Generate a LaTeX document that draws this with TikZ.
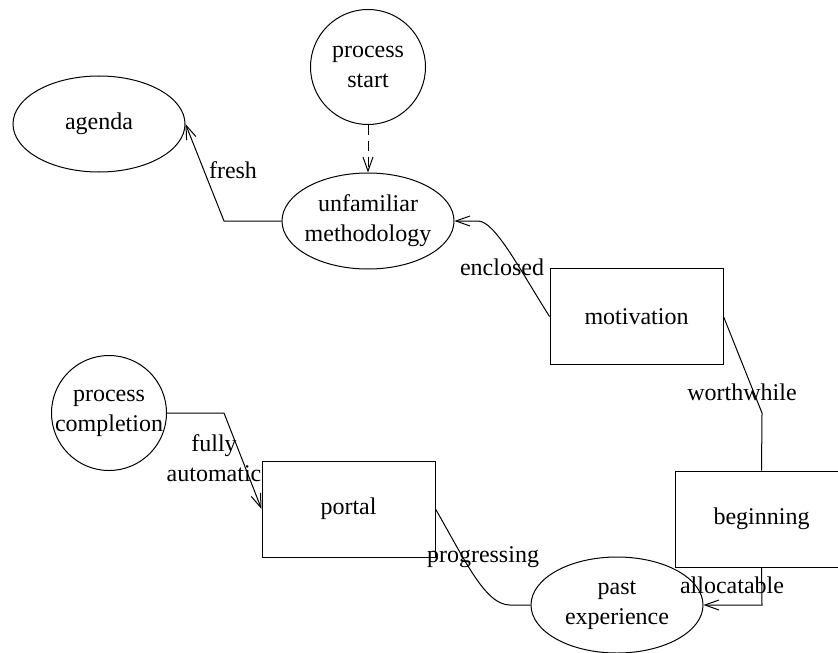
\documentclass[tikz,border=0pt]{standalone}
\usepackage{fontspec}
\setmainfont{Liberation Serif}
\usepackage{tikz}
\usetikzlibrary{shapes.geometric, arrows.meta}

\begin{document}
\begin{tikzpicture}[x=0.5pt, y=-0.5pt, line width=0.5pt,
  font=\fontsize{12}{15}\selectfont,
  ovalnode/.style={draw, ellipse, minimum width=86pt, minimum height=48pt, inner sep=0},
  ringnode/.style={draw, circle, minimum size=57.5pt, inner sep=0},
  rectbox/.style={draw, rectangle, minimum width=86.5pt, minimum height=48pt, inner sep=0},
  lbl/.style={inner sep=0, align=center},
  arr/.style={-{Straight Barb[length=7pt,width=5pt]}}]
  \useasboundingbox (0,0) rectangle (838,652);
  %% States
  \node[ringnode, label={[lbl]center:{process\\start}}] (start) at (368,67) {};
  \node[ovalnode, label={[lbl]center:agenda}] (agenda) at (99,124) {};
  \node[ovalnode, label={[lbl]center:{unfamiliar\\methodology}}] (meth) at (368,221) {};
  \node[rectbox] (mot) at (636.5,316.5) {motivation};
  \node[rectbox] (beg) at (761.5,519) {beginning};
  \node[rectbox] (portal) at (348.5,509) {portal};
  \node[ovalnode, label={[lbl]center:{past\\experience}}] (past) at (617,605) {};
  \node[ringnode, label={[lbl]center:{process\\completion}}] (compl) at (109,413) {};
  %% Bend points
  \coordinate (fb) at (224,221);
  \coordinate (wb) at (762,413);
  \coordinate (ab) at (762,605);
  \coordinate (fa) at (224,413);
  %% Transitions
  \draw[arr, dash pattern=on 5pt off 3pt] (start) -- (meth);
  \draw[arr] (meth.west) -- (fb) -- (agenda.east);
  \draw[arr] (mot.west) .. controls (520,270) and (495,221) .. (478,221) -- (meth.east);
  \draw (mot.east) -- (wb) -- (beg.north);
  \draw[arr] (beg.south) -- (ab) -- (past.east);
  \draw (portal.east) .. controls (465,560) and (485,605) .. (510,605) -- (past.west);
  \draw[arr] (compl.east) -- (fa) -- (portal.west);
  %% Labels
  \node[lbl] (lfresh) at (233,170) {fresh};
  \node[lbl] (lencl) at (502,267) {enclosed};
  \node[lbl] (lworth) at (742,392) {worthwhile};
  \node[lbl] (lfully) at (214,458) {fully\\automatic};
  \node[lbl] (lprog) at (483,557) {progressing};
  \node[lbl] (lalloc) at (732,585) {allocatable};
\end{tikzpicture}
\end{document}
